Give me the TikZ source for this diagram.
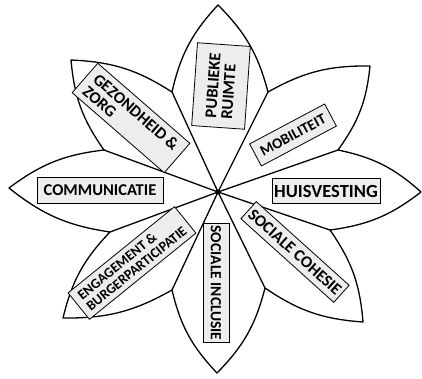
\documentclass[tikz,border=0pt]{standalone}
\usepackage{fontspec}
\setmainfont{Carlito}
\usepackage{tikz}
\colorlet{boxgrey}{gray!14}

\begin{document}
\begin{tikzpicture}[x=1pt, y=1pt,
		petal/.style={line width=1.3pt, line join=round},
		lbl/.style={draw, line width=0.8pt, fill=boxgrey, inner sep=0pt, align=left,
			font=\bfseries\fontsize{16.5}{16}\selectfont}]
			\useasboundingbox (-218,-186) rectangle (204,192);
			% tips
			\coordinate (tR) at (203,0);
			\coordinate (tUR) at (152,126);
			\coordinate (tT) at (0,187);
			\coordinate (tUL) at (-147,132);
			\coordinate (tL) at (-209,4);
			\coordinate (tLL) at (-155,-126);
			\coordinate (tB) at (-1,-181);
			\coordinate (tLR) at (145,-130);
			% valleys between the petals
			\coordinate (v1) at (120,42);
			\coordinate (v2) at (50,100);
			\coordinate (v3) at (-46,100);
			\coordinate (v4) at (-114,42);
			\coordinate (v5) at (-108,-40);
			\coordinate (v6) at (-46,-98);
			\coordinate (v7) at (47,-96);
			\coordinate (v8) at (112,-38);
			\coordinate (hart) at (0,0);
			\foreach \v in {v1,v2,v3,v4,v5,v6,v7,v8}
				\draw[petal] (hart) -- (\v);
			\draw[petal] (tR) to[bend right=15] (v1) to[bend right=15] (tUR)
				to[bend right=15] (v2) to[bend right=15] (tT)
				to[bend right=15] (v3) to[bend right=15] (tUL)
				to[bend right=15] (v4) to[bend right=15] (tL)
				to[bend right=15] (v5) to[bend right=15] (tLL)
				to[bend right=15] (v6) to[bend right=15] (tB)
				to[bend right=15] (v7) to[bend right=15] (tLR)
				to[bend right=15] (v8) to[bend right=15] (tR);
			\fill (hart) circle (2.5);
			% labels
			\node[lbl, rotate=86, minimum width=83pt, minimum height=53pt] (ruimte) at (3,106) {PUBLIEKE\\RUIMTE};
			\node[lbl, rotate=-41, minimum width=122pt, minimum height=39pt] (zorg) at (-87,74) {GEZONDHEID \&\\ZORG};
			\node[lbl, rotate=28, minimum width=85pt, minimum height=25pt,
				font=\bfseries\fontsize{15}{15}\selectfont] (mobiliteit) at (75,57) {MOBILITEIT};
			\node[lbl, minimum width=108pt, minimum height=25pt,
				font=\bfseries\fontsize{18.5}{18}\selectfont] (huisvesting) at (108,1) {HUISVESTING};
			\node[lbl, minimum width=126pt, minimum height=26pt] (communicatie) at (-118,2) {COMMUNICATIE};
			\node[lbl, rotate=-42, minimum width=125pt, minimum height=23pt] (cohesie) at (77,-60) {SOCIALE COHESIE};
			\node[lbl, rotate=-90, minimum width=119pt, minimum height=26pt,
				font=\bfseries\fontsize{15.5}{15}\selectfont] (inclusie) at (-2,-91) {SOCIALE INCLUSIE};
			\node[lbl, rotate=39, minimum width=137pt, minimum height=34pt,
				font=\bfseries\fontsize{14}{14}\selectfont] (engagement) at (-86,-71) {ENGAGEMENT \&\\BURGERPARTICIPATIE};
		\end{tikzpicture}
\end{document}
